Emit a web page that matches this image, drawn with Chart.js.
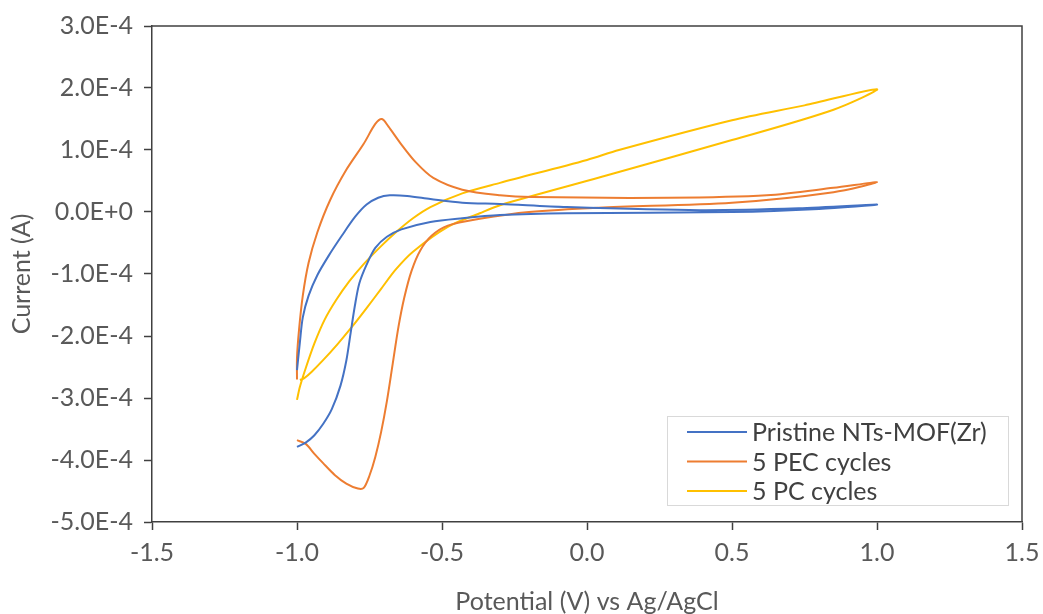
<!DOCTYPE html>
<html>
<head>
<meta charset="utf-8">
<script src="https://cdn.jsdelivr.net/npm/chart.js@4.4.1/dist/chart.umd.min.js"></script>
<style>
  html, body { margin: 0; padding: 0; background: #ffffff; }
  #wrap { width: 1043px; height: 614px; position: relative; }
</style>
</head>
<body>
<div id="wrap"><canvas id="cv" width="1043" height="614"></canvas></div>
<script>
// Cyclic voltammograms: potential (V vs Ag/AgCl) and current (A), in scan order.
const seriesNames = ['Pristine NTs-MOF(Zr)', '5 PEC cycles', '5 PC cycles'];

const pristinePotential = [
  -1.0, -0.97, -0.94, -0.91, -0.88, -0.85, -0.83, -0.815, -0.80, -0.785, -0.76, -0.73, -0.69, -0.64, -0.54, -0.43, -0.3, -0.07, 0.5, 0.8, 1.0,
  0.73, 0.39, -0.07, -0.3, -0.43, -0.54, -0.62, -0.68, -0.72, -0.76, -0.80, -0.845, -0.89, -0.93, -0.96, -0.98, -0.99, -1.0
];
const pristineCurrent = [
  -3.79e-4, -3.72e-4, -3.6e-4, -3.42e-4, -3.18e-4, -2.8e-4, -2.4e-4, -1.95e-4, -1.5e-4, -1.15e-4, -0.85e-4, -0.58e-4, -0.4e-4, -0.28e-4, -0.16e-4, -0.10e-4, -0.05e-4, -0.02e-4, 0.0, 0.05e-4, 0.12e-4,
  0.06e-4, 0.03e-4, 0.08e-4, 0.13e-4, 0.15e-4, 0.21e-4, 0.26e-4, 0.27e-4, 0.23e-4, 0.12e-4, -0.08e-4, -0.38e-4, -0.7e-4, -1.02e-4, -1.35e-4, -1.7e-4, -2.1e-4, -2.55e-4
];

const pecPotential = [
  -1.0, -0.97, -0.94, -0.91, -0.87, -0.83, -0.79, -0.77, -0.75, -0.73, -0.71, -0.69, -0.67, -0.65, -0.63, -0.605, -0.575, -0.535, -0.48, -0.37, -0.2, 0.04, 0.5, 0.85, 1.0,
  0.85, 0.62, 0.28, -0.19, -0.3, -0.43, -0.53, -0.59, -0.645, -0.685, -0.707, -0.73, -0.77, -0.83, -0.886, -0.93, -0.96, -0.98, -0.993, -1.0, -1.0
];
const pecCurrent = [
  -3.68e-4, -3.74e-4, -3.9e-4, -4.05e-4, -4.24e-4, -4.38e-4, -4.46e-4, -4.45e-4, -4.25e-4, -3.95e-4, -3.55e-4, -3.05e-4, -2.45e-4, -1.85e-4, -1.38e-4, -0.95e-4, -0.62e-4, -0.38e-4, -0.22e-4, -0.11e-4, 0.0, 0.07e-4, 0.15e-4, 0.32e-4, 0.48e-4,
  0.39e-4, 0.27e-4, 0.23e-4, 0.24e-4, 0.27e-4, 0.36e-4, 0.55e-4, 0.8e-4, 1.12e-4, 1.38e-4, 1.5e-4, 1.42e-4, 1.1e-4, 0.68e-4, 0.19e-4, -0.33e-4, -0.82e-4, -1.35e-4, -1.9e-4, -2.35e-4, -2.7e-4
];

const pcPotential = [
  -1.0, -0.99, -0.97, -0.94, -0.905, -0.865, -0.82, -0.77, -0.71, -0.655, -0.6, -0.54, -0.43, -0.3, 0.0, 0.11, 0.5, 0.75, 1.0,
  0.85, 0.5, 0.045, -0.3, -0.37, -0.48, -0.6, -0.66, -0.71, -0.76, -0.81, -0.86, -0.91, -0.95, -0.975, -0.99
];
const pcCurrent = [
  -3.03e-4, -2.82e-4, -2.52e-4, -2.12e-4, -1.74e-4, -1.42e-4, -1.12e-4, -0.84e-4, -0.55e-4, -0.31e-4, -0.1e-4, 0.08e-4, 0.3e-4, 0.47e-4, 0.84e-4, 1.0e-4, 1.48e-4, 1.72e-4, 1.98e-4,
  1.65e-4, 1.16e-4, 0.56e-4, 0.11e-4, -0.02e-4, -0.24e-4, -0.64e-4, -0.93e-4, -1.24e-4, -1.55e-4, -1.85e-4, -2.13e-4, -2.39e-4, -2.58e-4, -2.68e-4, -2.71e-4
];

const xTickValues = [-1.5, -1.0, -0.5, 0.0, 0.5, 1.0, 1.5];
const xTickLabels = ['-1.5', '-1.0', '-0.5', '0.0', '0.5', '1.0', '1.5'];
const yTickValues = [-5e-4, -4e-4, -3e-4, -2e-4, -1e-4, 0, 1e-4, 2e-4, 3e-4];
const yTickLabels = ['-5.0E-4', '-4.0E-4', '-3.0E-4', '-2.0E-4', '-1.0E-4', '0.0E+0', '1.0E-4', '2.0E-4', '3.0E-4'];

const seriesColors = ['#4472C4', '#ED7D31', '#FFC000'];

const FONT = 'Lato, Carlito, "Open Sans", sans-serif';
const TEXT = '#595959';
const AXIS = '#404040';

function toPoints(xs, ys) {
  return xs.map((x, i) => ({ x: x, y: ys[i] }));
}

// Full frame around the plot area (top and right sides too).
const frame = {
  id: 'frame',
  afterDraw(chart) {
    const a = chart.chartArea, ctx = chart.ctx;
    ctx.save();
    ctx.strokeStyle = AXIS;
    ctx.lineWidth = 1.5;
    ctx.beginPath();
    ctx.moveTo(a.left, a.top);
    ctx.lineTo(a.right, a.top);
    ctx.lineTo(a.right, a.bottom);
    ctx.stroke();
    ctx.restore();
  }
};

// Boxed legend in the lower-right of the plot area.
const boxLegend = {
  id: 'boxLegend',
  afterDraw(chart) {
    const ctx = chart.ctx;
    const a = chart.chartArea;
    const bx = a.left + 515.5, by = a.top + 390.5, bw = 341, bh = 89;
    ctx.save();
    ctx.fillStyle = '#ffffff';
    ctx.fillRect(bx, by, bw, bh);
    ctx.strokeStyle = '#D9D9D9';
    ctx.lineWidth = 1;
    ctx.strokeRect(bx, by, bw, bh);
    ctx.font = '25px ' + FONT;
    ctx.textBaseline = 'middle';
    ctx.textAlign = 'left';
    chart.data.datasets.forEach((ds, i) => {
      const y = by + 15.5 + i * 29.5;
      ctx.strokeStyle = ds.borderColor;
      ctx.lineWidth = 2;
      ctx.beginPath();
      ctx.moveTo(bx + 19.5, y);
      ctx.lineTo(bx + 79.5, y);
      ctx.stroke();
      ctx.fillStyle = '#404040';
      ctx.fillText(ds.label, bx + 84.5, y + 1);
    });
    ctx.restore();
  }
};

const seriesX = [pristinePotential, pecPotential, pcPotential];
const seriesY = [pristineCurrent, pecCurrent, pcCurrent];

new Chart(document.getElementById('cv'), {
  type: 'scatter',
  data: {
    datasets: seriesNames.map((name, i) => ({
      label: name,
      data: toPoints(seriesX[i], seriesY[i]),
      showLine: true,
      borderColor: seriesColors[i],
      backgroundColor: seriesColors[i],
      borderWidth: 2,
      pointRadius: 0,
      tension: 0.3
    }))
  },
  options: {
    responsive: false,
    animation: false,
    layout: { padding: { left: 0, right: 21, top: 26, bottom: 0 } },
    plugins: { legend: { display: false }, tooltip: { enabled: false } },
    scales: {
      x: {
        type: 'linear',
        min: -1.5, max: 1.5,
        afterBuildTicks: s => { s.ticks = xTickValues.map(v => ({ value: v })); },
        afterFit: s => { s.height = 92; s.paddingRight = 0; s.paddingLeft = 0; },
        ticks: {
          callback: (v, i) => xTickLabels[i],
          font: { family: FONT, size: 25 },
          color: TEXT,
          padding: 8,
          maxRotation: 0
        },
        grid: { display: true, drawOnChartArea: false, drawTicks: true, tickLength: 8, tickColor: AXIS, tickWidth: 1.5 },
        border: { display: true, color: AXIS, width: 1.5 },
        title: {
          display: true,
          text: 'Potential (V) vs Ag/AgCl',
          font: { family: FONT, size: 25, lineHeight: 1 },
          color: TEXT,
          padding: { top: 0, bottom: 0 }
        }
      },
      y: {
        type: 'linear',
        min: -5e-4, max: 3e-4,
        afterBuildTicks: s => { s.ticks = yTickValues.map(v => ({ value: v })); },
        afterFit: s => { s.width = 152; s.paddingTop = 0; s.paddingBottom = 0; },
        ticks: {
          callback: (v, i) => yTickLabels[i],
          font: { family: FONT, size: 25 },
          color: TEXT,
          padding: 11
        },
        grid: { display: true, drawOnChartArea: false, drawTicks: true, tickLength: 8, tickColor: AXIS, tickWidth: 1.5 },
        border: { display: true, color: AXIS, width: 1.5 },
        title: {
          display: true,
          text: 'Current (A)',
          font: { family: FONT, size: 25, lineHeight: 1.2 },
          color: TEXT,
          padding: { top: 7, bottom: 0 }
        }
      }
    }
  },
  plugins: [frame, boxLegend]
});
</script>
</body>
</html>
